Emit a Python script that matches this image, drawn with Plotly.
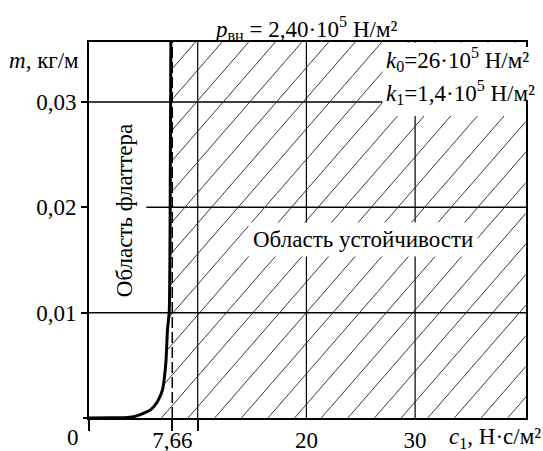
import numpy as np
import plotly.graph_objects as go

# ---- data ----
c1_curve = [0.0, 2.0, 3.6, 4.46, 5.69, 6.30, 6.76, 7.07, 7.22, 7.38, 7.47, 7.53]
m_curve = [0.0, 0.00002, 0.00006, 0.00022, 0.00079, 0.00157, 0.00268, 0.00525,
           0.00838, 0.0101, 0.0201, 0.0357]
c1_flutter = 7.66

x_tickvals = [7.66, 20, 30]
x_ticktext = ["7,66", "20", "30"]
x_minor_ticks = [0, 7.66, 10]
y_tickvals = [0.01, 0.02, 0.03]
y_ticktext = ["0,01", "0,02", "0,03"]
x_grid = [10, 20, 30]

X_MAX = 40.2
Y_MAX = 0.03569

FONT = "Liberation Serif"
FS = 23

# ---- hatching of the stability region (right of the curve) ----
HATCH_STEP = 2.45      # horizontal spacing (c1 units)
HATCH_SLOPE = 843.0    # dc1/dm of each hatch line
HATCH_PHASE = 1.76
ys = np.linspace(0, Y_MAX, 4000)
xc = np.interp(ys, m_curve, c1_curve)
hx, hy = [], []
for k in range(-20, 20):
    c = HATCH_PHASE + k * HATCH_STEP
    xl = c + HATCH_SLOPE * ys
    mask = (xl >= xc) & (xl <= X_MAX)
    if mask.sum() < 2:
        continue
    idx = np.where(mask)[0]
    breaks = np.where(np.diff(idx) > 1)[0]
    if len(breaks):
        idx = idx[breaks[-1] + 1:]
    if len(idx) < 2:
        continue
    i0, i1 = idx[0], idx[-1]
    hx += [xl[i0], xl[i1], None]
    hy += [ys[i0], ys[i1], None]

fig = go.Figure()
fig.add_trace(go.Scatter(x=hx, y=hy, mode="lines",
                         line=dict(color="#222", width=0.9),
                         hoverinfo="skip"))
fig.add_trace(go.Scatter(x=c1_curve, y=m_curve, mode="lines",
                         line=dict(color="black", width=3, shape="spline", smoothing=0.6)))

shapes = []
shapes.append(dict(type="line", xref="x", yref="y", x0=0, x1=X_MAX, y0=0.01, y1=0.01,
                   line=dict(color="black", width=1.5), layer="below"))
shapes.append(dict(type="line", xref="x", yref="y", x0=5.28, x1=X_MAX, y0=0.02, y1=0.02,
                   line=dict(color="black", width=1.5), layer="below"))
shapes.append(dict(type="line", xref="x", yref="y", x0=0, x1=27.0, y0=0.03, y1=0.03,
                   line=dict(color="black", width=1.5), layer="below"))
for xv in x_grid:
    shapes.append(dict(type="line", xref="x", yref="y", x0=xv, x1=xv, y0=0, y1=Y_MAX,
                       line=dict(color="black", width=1.2), layer="below"))
shapes.append(dict(type="line", xref="x", yref="y", x0=c1_flutter, x1=c1_flutter, y0=0, y1=Y_MAX,
                   line=dict(color="black", width=1.5, dash="11px,4px"), layer="above"))
shapes.append(dict(type="line", xref="paper", yref="paper", x0=-6/437, x1=0, y0=0, y1=0,
                   line=dict(color="black", width=2), layer="above"))
shapes.append(dict(type="rect", xref="x", yref="y", x0=27.0, x1=X_MAX - 0.08, y0=0.02867, y1=Y_MAX - 0.00008,
                   fillcolor="white", line=dict(width=0), layer="above"))
shapes.append(dict(type="rect", xref="paper", yref="paper", x0=(385-89)/437, x1=(543-89)/437,
                   y0=1-(100-42)/376, y1=1-(47-42)/376,
                   fillcolor="white", line=dict(width=0), layer="above"))

ann = []
ann.append(dict(text="<i>p</i><sub>вн</sub> = 2,40·10<sup>5</sup> Н/м²", xref="paper", yref="paper",
                x=(305-89)/437, y=1+(42-28)/376, xanchor="center", yanchor="middle",
                showarrow=False, font=dict(size=FS)))
ann.append(dict(text="<i>m</i>, кг/м", xref="paper", yref="paper",
                x=(81-89)/437, y=1-(61-42)/376, xanchor="right", yanchor="middle",
                showarrow=False, font=dict(size=FS)))
ann.append(dict(text="<i>k</i><sub>0</sub>=26·10<sup>5</sup> Н/м²", xref="paper", yref="paper",
                x=(384-89)/437, y=1-(59-42)/376, xanchor="left", yanchor="middle",
                showarrow=False, font=dict(size=FS)))
ann.append(dict(text="<i>k</i><sub>1</sub>=1,4·10<sup>5</sup> Н/м²", xref="paper", yref="paper",
                x=(384-89)/437, y=1-(92-42)/376, xanchor="left", yanchor="middle",
                showarrow=False, font=dict(size=FS)))
ann.append(dict(text="Область устойчивости", xref="x", yref="y",
                x=25.18, y=0.01691, xanchor="center", yanchor="middle",
                showarrow=False, bgcolor="white", borderpad=4, font=dict(size=FS)))
ann.append(dict(text="Область флаттера", xref="x", yref="y", textangle=-90,
                x=3.29, y=0.0197, xanchor="center", yanchor="middle",
                showarrow=False, font=dict(size=FS)))
ann.append(dict(text="0", xref="paper", yref="paper",
                x=(72.7-89)/437, y=-(438-418)/376, xanchor="center", yanchor="middle",
                showarrow=False, font=dict(size=FS)))
ann.append(dict(text="<i>c</i><sub>1</sub>, Н·с/м²", xref="paper", yref="paper",
                x=(543-89)/437, y=-(438-418)/376, xanchor="right", yanchor="middle",
                showarrow=False, font=dict(size=FS)))

fig.update_layout(
    width=543, height=451,
    margin=dict(l=89, r=17, t=42, b=33),
    paper_bgcolor="white", plot_bgcolor="white",
    showlegend=False,
    font=dict(family=FONT, size=FS, color="black"),
    shapes=shapes, annotations=ann,
    xaxis=dict(range=[0, X_MAX], showgrid=False, zeroline=False, automargin=False,
               showline=True, linecolor="black", linewidth=1.8, mirror=True,
               tickmode="array", tickvals=x_tickvals, ticktext=x_ticktext, ticks="",
               ticklabelstandoff=0,
               minor=dict(tickmode="array", tickvals=x_minor_ticks, ticks="outside",
                          ticklen=11, tickwidth=1.5, tickcolor="black", showgrid=False),
               fixedrange=True),
    yaxis=dict(range=[0, Y_MAX], showgrid=False, zeroline=False, automargin=False,
               showline=True, linecolor="black", linewidth=1.8, mirror=True,
               tickmode="array", tickvals=y_tickvals, ticktext=y_ticktext,
               ticks="outside", ticklen=6, tickwidth=1.5, tickcolor="black",
               fixedrange=True),
)

fig.write_html("out.html")
